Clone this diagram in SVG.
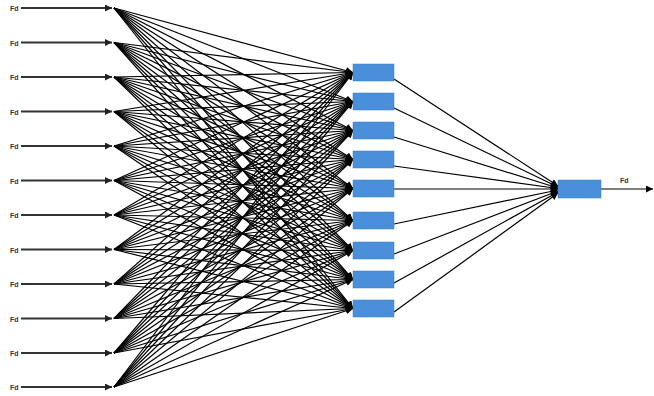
<svg xmlns="http://www.w3.org/2000/svg" width="654" height="396" viewBox="0 0 654 396">
<defs>
<marker id="ah" viewBox="0 0 10 10" refX="10" refY="5" markerWidth="10" markerHeight="7" markerUnits="userSpaceOnUse" orient="auto"><path d="M0,0 L10,5 L0,10 z" fill="#000"/></marker>
<marker id="ahi" viewBox="0 0 10 10" refX="10" refY="5" markerWidth="10" markerHeight="7" markerUnits="userSpaceOnUse" orient="auto"><path d="M0,0 L10,5 L0,10 z" fill="#222"/></marker>
</defs>
<style>
.lbl{font-family:"Liberation Sans",Arial,sans-serif;font-size:7px;font-weight:bold;fill:#333}
.in{stroke:#333;stroke-width:1.8;marker-end:url(#ahi)}
.c line{stroke:#000;stroke-width:1.2;marker-end:url(#ah)}
.box{fill:#4a8fd9;stroke:#3a7cc4;stroke-width:0.5}
</style>
<g id="inputs">
<text class="lbl" x="10" y="11">Fd</text><line class="in" x1="21" y1="8" x2="112" y2="8"/>
<text class="lbl" x="10" y="45.5">Fd</text><line class="in" x1="21" y1="42.5" x2="112" y2="42.5"/>
<text class="lbl" x="10" y="80">Fd</text><line class="in" x1="21" y1="77" x2="112" y2="77"/>
<text class="lbl" x="10" y="114.5">Fd</text><line class="in" x1="21" y1="111.5" x2="112" y2="111.5"/>
<text class="lbl" x="10" y="149">Fd</text><line class="in" x1="21" y1="146" x2="112" y2="146"/>
<text class="lbl" x="10" y="183.5">Fd</text><line class="in" x1="21" y1="180.5" x2="112" y2="180.5"/>
<text class="lbl" x="10" y="218">Fd</text><line class="in" x1="21" y1="215" x2="112" y2="215"/>
<text class="lbl" x="10" y="252.5">Fd</text><line class="in" x1="21" y1="249.5" x2="112" y2="249.5"/>
<text class="lbl" x="10" y="287">Fd</text><line class="in" x1="21" y1="284" x2="112" y2="284"/>
<text class="lbl" x="10" y="321.5">Fd</text><line class="in" x1="21" y1="318.5" x2="112" y2="318.5"/>
<text class="lbl" x="10" y="356">Fd</text><line class="in" x1="21" y1="353" x2="112" y2="353"/>
<text class="lbl" x="10" y="390">Fd</text><line class="in" x1="21" y1="387" x2="112" y2="387"/>
</g>
<g id="connectors" class="c">
<line x1="114" y1="8" x2="353" y2="72.5"/><line x1="114" y1="8" x2="353" y2="101.5"/><line x1="114" y1="8" x2="353" y2="130.5"/><line x1="114" y1="8" x2="353" y2="159.5"/><line x1="114" y1="8" x2="353" y2="188.5"/><line x1="114" y1="8" x2="353" y2="220.5"/><line x1="114" y1="8" x2="353" y2="250.5"/><line x1="114" y1="8" x2="353" y2="279.5"/><line x1="114" y1="8" x2="353" y2="308.5"/>
<line x1="114" y1="42.5" x2="353" y2="72.5"/><line x1="114" y1="42.5" x2="353" y2="101.5"/><line x1="114" y1="42.5" x2="353" y2="130.5"/><line x1="114" y1="42.5" x2="353" y2="159.5"/><line x1="114" y1="42.5" x2="353" y2="188.5"/><line x1="114" y1="42.5" x2="353" y2="220.5"/><line x1="114" y1="42.5" x2="353" y2="250.5"/><line x1="114" y1="42.5" x2="353" y2="279.5"/><line x1="114" y1="42.5" x2="353" y2="308.5"/>
<line x1="114" y1="77" x2="353" y2="72.5"/><line x1="114" y1="77" x2="353" y2="101.5"/><line x1="114" y1="77" x2="353" y2="130.5"/><line x1="114" y1="77" x2="353" y2="159.5"/><line x1="114" y1="77" x2="353" y2="188.5"/><line x1="114" y1="77" x2="353" y2="220.5"/><line x1="114" y1="77" x2="353" y2="250.5"/><line x1="114" y1="77" x2="353" y2="279.5"/><line x1="114" y1="77" x2="353" y2="308.5"/>
<line x1="114" y1="111.5" x2="353" y2="72.5"/><line x1="114" y1="111.5" x2="353" y2="101.5"/><line x1="114" y1="111.5" x2="353" y2="130.5"/><line x1="114" y1="111.5" x2="353" y2="159.5"/><line x1="114" y1="111.5" x2="353" y2="188.5"/><line x1="114" y1="111.5" x2="353" y2="220.5"/><line x1="114" y1="111.5" x2="353" y2="250.5"/><line x1="114" y1="111.5" x2="353" y2="279.5"/><line x1="114" y1="111.5" x2="353" y2="308.5"/>
<line x1="114" y1="146" x2="353" y2="72.5"/><line x1="114" y1="146" x2="353" y2="101.5"/><line x1="114" y1="146" x2="353" y2="130.5"/><line x1="114" y1="146" x2="353" y2="159.5"/><line x1="114" y1="146" x2="353" y2="188.5"/><line x1="114" y1="146" x2="353" y2="220.5"/><line x1="114" y1="146" x2="353" y2="250.5"/><line x1="114" y1="146" x2="353" y2="279.5"/><line x1="114" y1="146" x2="353" y2="308.5"/>
<line x1="114" y1="180.5" x2="353" y2="72.5"/><line x1="114" y1="180.5" x2="353" y2="101.5"/><line x1="114" y1="180.5" x2="353" y2="130.5"/><line x1="114" y1="180.5" x2="353" y2="159.5"/><line x1="114" y1="180.5" x2="353" y2="188.5"/><line x1="114" y1="180.5" x2="353" y2="220.5"/><line x1="114" y1="180.5" x2="353" y2="250.5"/><line x1="114" y1="180.5" x2="353" y2="279.5"/><line x1="114" y1="180.5" x2="353" y2="308.5"/>
<line x1="114" y1="215" x2="353" y2="72.5"/><line x1="114" y1="215" x2="353" y2="101.5"/><line x1="114" y1="215" x2="353" y2="130.5"/><line x1="114" y1="215" x2="353" y2="159.5"/><line x1="114" y1="215" x2="353" y2="188.5"/><line x1="114" y1="215" x2="353" y2="220.5"/><line x1="114" y1="215" x2="353" y2="250.5"/><line x1="114" y1="215" x2="353" y2="279.5"/><line x1="114" y1="215" x2="353" y2="308.5"/>
<line x1="114" y1="249.5" x2="353" y2="72.5"/><line x1="114" y1="249.5" x2="353" y2="101.5"/><line x1="114" y1="249.5" x2="353" y2="130.5"/><line x1="114" y1="249.5" x2="353" y2="159.5"/><line x1="114" y1="249.5" x2="353" y2="188.5"/><line x1="114" y1="249.5" x2="353" y2="220.5"/><line x1="114" y1="249.5" x2="353" y2="250.5"/><line x1="114" y1="249.5" x2="353" y2="279.5"/><line x1="114" y1="249.5" x2="353" y2="308.5"/>
<line x1="114" y1="284" x2="353" y2="72.5"/><line x1="114" y1="284" x2="353" y2="101.5"/><line x1="114" y1="284" x2="353" y2="130.5"/><line x1="114" y1="284" x2="353" y2="159.5"/><line x1="114" y1="284" x2="353" y2="188.5"/><line x1="114" y1="284" x2="353" y2="220.5"/><line x1="114" y1="284" x2="353" y2="250.5"/><line x1="114" y1="284" x2="353" y2="279.5"/><line x1="114" y1="284" x2="353" y2="308.5"/>
<line x1="114" y1="318.5" x2="353" y2="72.5"/><line x1="114" y1="318.5" x2="353" y2="101.5"/><line x1="114" y1="318.5" x2="353" y2="130.5"/><line x1="114" y1="318.5" x2="353" y2="159.5"/><line x1="114" y1="318.5" x2="353" y2="188.5"/><line x1="114" y1="318.5" x2="353" y2="220.5"/><line x1="114" y1="318.5" x2="353" y2="250.5"/><line x1="114" y1="318.5" x2="353" y2="279.5"/><line x1="114" y1="318.5" x2="353" y2="308.5"/>
<line x1="114" y1="353" x2="353" y2="72.5"/><line x1="114" y1="353" x2="353" y2="101.5"/><line x1="114" y1="353" x2="353" y2="130.5"/><line x1="114" y1="353" x2="353" y2="159.5"/><line x1="114" y1="353" x2="353" y2="188.5"/><line x1="114" y1="353" x2="353" y2="220.5"/><line x1="114" y1="353" x2="353" y2="250.5"/><line x1="114" y1="353" x2="353" y2="279.5"/><line x1="114" y1="353" x2="353" y2="308.5"/>
<line x1="114" y1="387" x2="353" y2="72.5"/><line x1="114" y1="387" x2="353" y2="101.5"/><line x1="114" y1="387" x2="353" y2="130.5"/><line x1="114" y1="387" x2="353" y2="159.5"/><line x1="114" y1="387" x2="353" y2="188.5"/><line x1="114" y1="387" x2="353" y2="220.5"/><line x1="114" y1="387" x2="353" y2="250.5"/><line x1="114" y1="387" x2="353" y2="279.5"/><line x1="114" y1="387" x2="353" y2="308.5"/>
<line x1="394" y1="79" x2="558" y2="186"/><line x1="394" y1="108" x2="558" y2="187"/><line x1="394" y1="137" x2="558" y2="188"/><line x1="394" y1="166" x2="558" y2="188.5"/><line x1="394" y1="189" x2="558" y2="189"/><line x1="394" y1="224" x2="558" y2="190"/><line x1="394" y1="254" x2="558" y2="191"/><line x1="394" y1="283" x2="558" y2="192"/><line x1="394" y1="312" x2="558" y2="193"/>
<line x1="601" y1="189" x2="653" y2="189"/>
</g>
<g id="hidden">
<rect class="box" x="353" y="64" width="41" height="17"/>
<rect class="box" x="353" y="93" width="41" height="17"/>
<rect class="box" x="353" y="122" width="41" height="17"/>
<rect class="box" x="353" y="151" width="41" height="17"/>
<rect class="box" x="353" y="180" width="41" height="17"/>
<rect class="box" x="353" y="212" width="41" height="17"/>
<rect class="box" x="353" y="242" width="41" height="17"/>
<rect class="box" x="353" y="271" width="41" height="17"/>
<rect class="box" x="353" y="300" width="41" height="17"/>
</g>
<g id="output">
<rect class="box" x="558" y="180" width="43" height="18"/>
<text class="lbl" x="620" y="183">Fd</text>
</g>
</svg>
